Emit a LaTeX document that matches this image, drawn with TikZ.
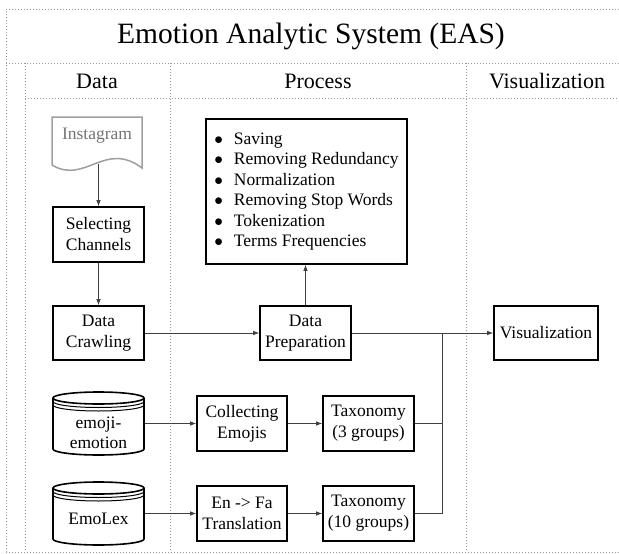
\documentclass[tikz,border=0pt]{standalone}
\usepackage{fontspec}
\setmainfont{Liberation Serif}
\usetikzlibrary{arrows.meta}
\begin{document}
\begin{tikzpicture}[x=1pt,y=-1pt,
  frame/.style={draw=gray!80, dotted, line width=1pt},
  box/.style={draw=black, line width=1.6pt, align=center, font=\fontsize{17.5}{21}\selectfont, inner sep=0pt},
  conn/.style={draw=black!75, line width=0.8pt},
  arr/.style={conn, -{Latex[length=6pt,width=4.5pt]}},
  cyl/.style={draw=black, line width=1.6pt}
]
\useasboundingbox (0,0) rectangle (619,554);
% frames
\draw[frame] (6,552) -- (6,9) -- (619,9);
\draw[frame] (6,63) -- (619,63);
\draw[frame] (25,98) -- (619,98);
\draw[frame] (25,63) -- (25,552);
\draw[frame] (170,63) -- (170,552);
\draw[frame] (466,63) -- (466,552);
\draw[frame] (6,552) -- (619,552);
% titles
\node (title) at (311,36) {\fontsize{29.5}{32}\selectfont Emotion Analytic System (EAS)};
\node (hdata) at (97,81) {\fontsize{22}{24}\selectfont Data};
\node (hproc) at (318,81) {\fontsize{22}{24}\selectfont Process};
\node (hvis) at (547,81) {\fontsize{22}{24}\selectfont Visualization};
% Instagram document
\draw[draw=gray!75, line width=1.5pt] (52,165) -- (52,117) -- (142,117) -- (142,168)
  .. controls (105,140) and (85,185) .. (52,165);
\node[text=gray!90!black, font=\fontsize{17.5}{21}\selectfont] (ig) at (97,136) {Instagram};
\coordinate (igbot) at (98.5,164);
% boxes
\node[box, minimum width=91, minimum height=55] (sel) at (98.5,234.5) {Selecting\\Channels};
\node[box, minimum width=91, minimum height=54] (crawl) at (98.5,333) {Data\\Crawling};
\node[box, minimum width=201, minimum height=145, align=left] (bul) at (306.5,191.5) {%
  \begin{tabular}{@{}l@{\hspace{11pt}}l@{}}
  $\bullet$ & Saving\\[-0.5pt]
  $\bullet$ & Removing Redundancy\\[-0.5pt]
  $\bullet$ & Normalization\\[-0.5pt]
  $\bullet$ & Removing Stop Words\\[-0.5pt]
  $\bullet$ & Tokenization\\[-0.5pt]
  $\bullet$ & Terms Frequencies
  \end{tabular}};
\node[box, minimum width=91, minimum height=54] (prep) at (305.5,333) {Data\\Preparation};
\node[box, minimum width=104, minimum height=54] (vis) at (546,333) {Visualization};
\node[box, minimum width=90, minimum height=55] (coll) at (242,423.5) {Collecting\\Emojis};
\node[box, minimum width=90, minimum height=55] (trans) at (242,513.5) {En -> Fa\\Translation};
\node[box, minimum width=91, minimum height=55] (tax3) at (368.5,423.5) {Taxonomy\\(3 groups)};
\node[box, minimum width=91, minimum height=55] (tax10) at (368.5,513.5) {Taxonomy\\(10 groups)};
% cylinders
\foreach \nm/\cy/\dy/\txt in {emo/423.5/9.5/{emoji-\\emotion}, lex/513.5/5.5/{EmoLex}}{
  \node[align=center, font=\fontsize{17.5}{20}\selectfont, inner sep=0pt] (\nm) at (98.5,\cy+\dy) {\txt};
  \coordinate (\nm-e) at (145,\cy);
  \begin{scope}[shift={(98.5,\cy)}]
    \draw[cyl] (0,-25.5) ellipse [x radius=45.5pt, y radius=6pt];
    \draw[cyl, line width=1pt] (-45.5,-22) arc[start angle=180, end angle=360, x radius=45.5pt, y radius=6pt];
    \draw[cyl, line width=1pt] (-45.5,-18.5) arc[start angle=180, end angle=360, x radius=45.5pt, y radius=6pt];
    \draw[cyl] (-45.5,-25.5) -- (-45.5,25.5) arc[start angle=180, end angle=360, x radius=45.5pt, y radius=6pt] -- (45.5,-25.5);
  \end{scope}
}
% connectors
\draw[arr] (igbot) -- (sel.north);
\draw[arr] (sel.south) -- (crawl.north);
\draw[arr] (crawl.east) -- (prep.west);
\draw[arr] (prep.north) -- (prep.north |- bul.south);
\coordinate (j) at (442,333);
\draw[conn] (prep.east) -- (j);
\draw[arr] (j) -- (vis.west);
\draw[conn] (tax3.east) -| (j);
\draw[conn] (tax10.east) -| (j);
\draw[arr] (emo-e) -- (coll.west);
\draw[arr] (lex-e) -- (trans.west);
\draw[arr] (coll.east) -- (tax3.west);
\draw[arr] (trans.east) -- (tax10.west);
\end{tikzpicture}
\end{document}
